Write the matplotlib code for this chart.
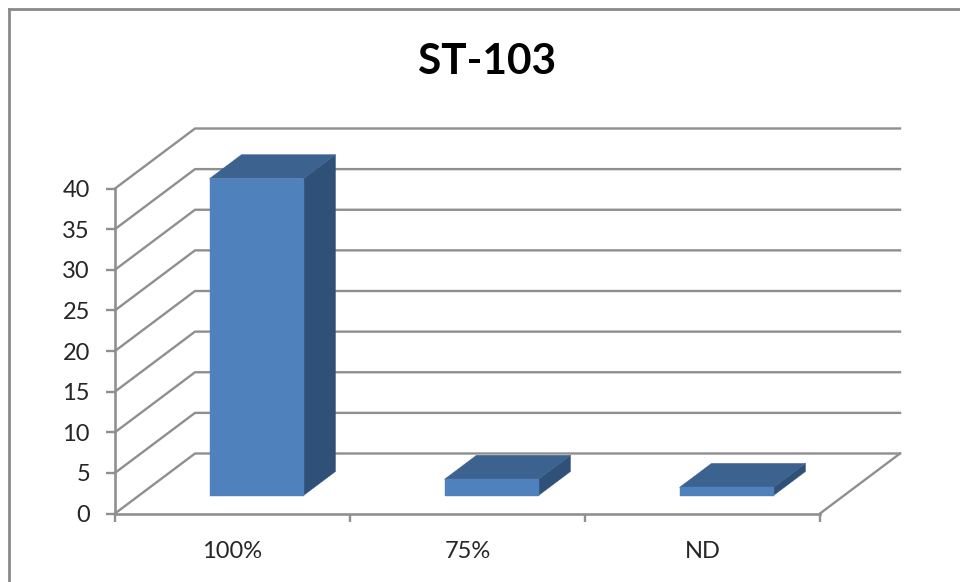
import matplotlib
matplotlib.use("Agg")
import matplotlib.pyplot as plt
from matplotlib.lines import Line2D

plt.rcParams["font.family"] = ["Lato", "DejaVu Sans"]

categories = ["100%", "75%", "ND"]
values = [39, 2, 1]
y_ticks = [0, 5, 10, 15, 20, 25, 30, 35, 40]
title = "ST-103"

W, H = 960, 582
GRID = "#8f8f8f"
FRONT, TOP, SIDE = "#4f81bd", "#3c6290", "#2f5178"

# depth of the 3D box, in data units (x: categories, y: value)
DEPTH_X = 80 / 235
DEPTH_Y = 60 / 8.125
BAR_W = 0.4
BAR_NEAR, BAR_FAR = 0.3, 0.7


def proj(x, y, d):
    # oblique projection: d=0 front plane, d=1 back wall
    return x + d * DEPTH_X, y + d * DEPTH_Y


def bar3d(ax, i, v):
    x0, x1 = i + 0.5 - BAR_W / 2, i + 0.5 + BAR_W / 2
    front = [proj(x0, 0, BAR_NEAR), proj(x1, 0, BAR_NEAR), proj(x1, v, BAR_NEAR), proj(x0, v, BAR_NEAR)]
    top = [proj(x0, v, BAR_NEAR), proj(x1, v, BAR_NEAR), proj(x1, v, BAR_FAR), proj(x0, v, BAR_FAR)]
    side = [proj(x1, 0, BAR_NEAR), proj(x1, 0, BAR_FAR), proj(x1, v, BAR_FAR), proj(x1, v, BAR_NEAR)]
    for pts, c in ((side, SIDE), (top, TOP), (front, FRONT)):
        ax.fill(*zip(*pts), color=c, lw=0.3, clip_on=False, zorder=3)


fig = plt.figure(figsize=(W / 100, H / 100), dpi=100, facecolor="white")
ax = fig.add_axes([115 / W, 1 - 513.5 / H, 705 / W, 325 / H])
ax.set_xlim(0, len(categories))
ax.set_ylim(0, 40)
ax.patch.set_visible(False)

# walls and floor
for t in y_ticks:
    xs, ys = zip(proj(0, t, 0), proj(0, t, 1), proj(len(categories), t, 1))
    ax.plot(xs, ys, color=GRID, lw=1.7, clip_on=False, zorder=1)
xs, ys = zip(proj(len(categories), 0, 0), proj(len(categories), 0, 1))
ax.plot(xs, ys, color=GRID, lw=1.7, clip_on=False, zorder=1)

for i, v in enumerate(values):
    bar3d(ax, i, v)

for s in ("top", "right"):
    ax.spines[s].set_visible(False)
for s in ("left", "bottom"):
    ax.spines[s].set_color(GRID)
    ax.spines[s].set_linewidth(1.9)
    ax.spines[s].set_zorder(2)

ax.set_yticks(y_ticks)
ax.set_xticks(range(len(categories) + 1))
ax.set_xticklabels([])
ax.tick_params(axis="y", length=6.5, width=1.7, color=GRID, pad=11.5, labelsize=17, labelcolor="#262626")
ax.tick_params(axis="x", length=6, width=1.7, color=GRID)

# category labels sit under each slot, not on the tick marks
for i, c in enumerate(categories):
    ax.annotate(c, (i + 0.5, 0), xytext=(0, -27), textcoords="offset points",
                ha="center", va="center", fontsize=17, color="#262626", annotation_clip=False)

fig.text(487.5 / W, 1 - 62.5 / H, title, ha="center", va="center", fontsize=30.5, fontweight="bold", color="black")

# chart frame, cut off on the right and at the bottom
fig.add_artist(Line2D([8.5 / W, 1], [1 - 8.5 / H] * 2, color="#8a8a8a", lw=2))
fig.add_artist(Line2D([8.5 / W] * 2, [1 - 8.5 / H, 0], color="#8a8a8a", lw=2))

fig.savefig("out.png", dpi=100)
